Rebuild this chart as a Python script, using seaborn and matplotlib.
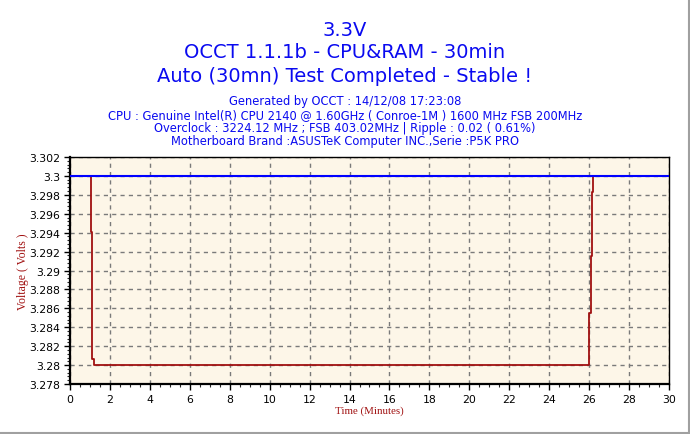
import pandas as pd
import seaborn as sns
import matplotlib.pyplot as plt
from matplotlib.lines import Line2D
from matplotlib.ticker import MultipleLocator, AutoMinorLocator

# Data
ref_time = [0, 30]
ref_volts = [3.3, 3.3]

time_min = [0.0, 1.03, 1.05, 1.08, 1.12, 1.2, 26.0, 26.07, 26.12, 26.17, 30.0]
volts = [3.3, 3.2993, 3.2941, 3.2855, 3.2806, 3.28, 3.2855, 3.2915, 3.2983, 3.3, 3.3]

x_ticks = list(range(0, 31, 2))
y_ticks = [3.278, 3.28, 3.282, 3.284, 3.286, 3.288, 3.29, 3.292,
           3.294, 3.296, 3.298, 3.3, 3.302]
y_tick_labels = ["3.278", "3.28", "3.282", "3.284", "3.286", "3.288", "3.29",
                 "3.292", "3.294", "3.296", "3.298", "3.3", "3.302"]

title_lines = ["3.3V", "OCCT 1.1.1b - CPU&RAM - 30min",
               "Auto (30mn) Test Completed - Stable !"]
info_lines = [
    "Generated by OCCT : 14/12/08 17:23:08",
    "CPU : Genuine Intel(R) CPU 2140 @ 1.60GHz ( Conroe-1M ) 1600 MHz FSB 200MHz",
    "Overclock : 3224.12 MHz ; FSB 403.02MHz | Ripple : 0.02 ( 0.61%)",
    "Motherboard Brand :ASUSTeK Computer INC.,Serie :P5K PRO",
]

BLUE = "#0A0AF0"
DARK_RED = "#A01010"

sns.set_style("ticks")
plt.rcParams["font.family"] = ["DejaVu Sans"]

fig = plt.figure(figsize=(6.9, 4.35), dpi=100)
fig.patch.set_facecolor("white")
ax = fig.add_axes([0.1014, 0.1149, 0.8682, 0.5219])
ax.set_facecolor("#FDF6E8")

df_red = pd.DataFrame({"t": time_min, "v": volts})
df_blue = pd.DataFrame({"t": ref_time, "v": ref_volts})

sns.lineplot(data=df_red, x="t", y="v", ax=ax, color=DARK_RED, linewidth=1.3,
             drawstyle="steps-post", estimator=None, sort=False, zorder=3)
sns.lineplot(data=df_blue, x="t", y="v", ax=ax, color="#0000FF", linewidth=1.5,
             estimator=None, sort=False, zorder=4)

ax.set_xlim(0, 30)
ax.set_ylim(3.278, 3.302)
ax.set_xticks(x_ticks)
ax.set_yticks(y_ticks)
ax.set_yticklabels(y_tick_labels)
ax.xaxis.set_minor_locator(MultipleLocator(0.5))
ax.yaxis.set_minor_locator(AutoMinorLocator(5))
ax.tick_params(axis="both", which="major", direction="out", length=4, width=1,
               labelsize=7.8, colors="black", pad=3)
ax.tick_params(axis="both", which="minor", direction="out", length=2, width=0.8)

ax.grid(True, which="major", color="#7A7A7A", linestyle=(0, (3, 3)), linewidth=1)
ax.set_axisbelow(True)

for side in ["left", "bottom"]:
    ax.spines[side].set_linewidth(1.6)
for side in ["top", "right"]:
    ax.spines[side].set_linewidth(1.0)
for sp in ax.spines.values():
    sp.set_color("black")
    sp.set_visible(True)

ax.set_xlabel("Time (Minutes)", family=["Liberation Serif"], fontsize=7.8,
              color=DARK_RED, labelpad=1)
ax.set_ylabel("Voltage ( Volts )", family=["Liberation Serif"], fontsize=8.5,
              color=DARK_RED, labelpad=0)

# Titles
title_y = [1 - 31 / 435, 1 - 53 / 435, 1 - 77 / 435]
for txt, yy in zip(title_lines, title_y):
    fig.text(0.5, yy, txt, ha="center", va="center", fontsize=14, color=BLUE)

info_y = [1 - 102 / 435, 1 - 116 / 435, 1 - 129 / 435, 1 - 142 / 435]
for txt, yy in zip(info_lines, info_y):
    fig.text(0.5, yy, txt, ha="center", va="center", fontsize=8.3, color=BLUE)

# grey window frame on the right and bottom
fig.add_artist(Line2D([688.5 / 690, 688.5 / 690], [0, 1], transform=fig.transFigure,
                      color="#A0A0A0", linewidth=1.5))
fig.add_artist(Line2D([0, 1], [1.5 / 435, 1.5 / 435], transform=fig.transFigure,
                      color="#A0A0A0", linewidth=1.5))

fig.savefig("out.png", dpi=100, facecolor="white")
plt.close(fig)
